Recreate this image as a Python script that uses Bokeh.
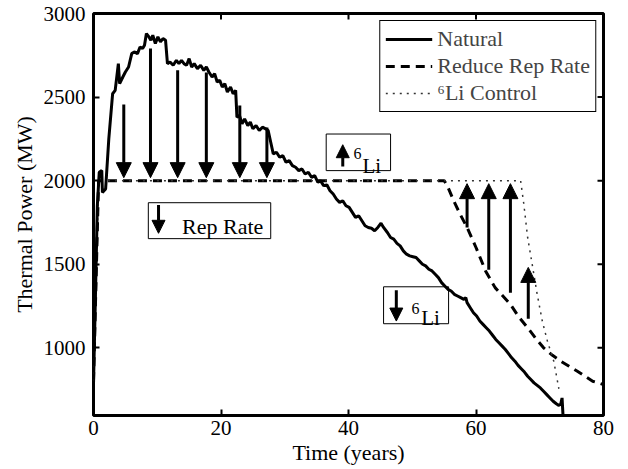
import math
from bokeh.plotting import figure
from bokeh.models import (Range1d, Legend, LegendItem, FixedTicker,
                          Arrow, NormalHead, ColumnDataSource, BoxAnnotation, Label)
from bokeh.embed import file_html
from bokeh.resources import INLINE

# ---------------- data ----------------
nat_t = [0.0, 0.3, 0.6, 0.9, 1.3, 1.4, 1.9, 2.4, 3.0, 3.4, 3.9, 4.1, 4.6, 5.0, 5.5, 6.0, 6.4,
         6.9, 7.3, 7.7, 8.0, 8.3, 8.7, 9.0, 9.3, 9.7, 10.1, 10.5, 10.9, 11.3, 11.6, 12.0,
         12.5, 13.0, 13.4, 13.8, 14.2, 14.6, 15.0, 15.4, 15.8, 16.3, 16.8, 17.3, 17.7, 18.1,
         18.6, 19.0, 19.4, 19.8, 20.2, 20.6, 21.0, 21.5, 21.9, 22.3, 22.5, 22.9, 23.3, 23.7,
         24.2, 24.6, 25.0, 25.5, 26.0, 26.5, 27.0, 27.4, 27.8, 28.2, 28.7, 29.2, 29.7, 30.2,
         30.7, 31.2, 31.7, 32.2, 32.7, 33.2, 33.7, 34.2, 34.7, 35.2, 35.6, 36.1, 36.6, 37.1,
         37.6, 38.1, 38.6, 39.1, 39.6, 40.1, 40.6, 41.1, 41.6, 42.1, 42.6, 43.1, 43.6, 44.1,
         44.6, 45.1, 45.5, 46.1, 46.6, 47.1, 47.6, 48.1, 48.6, 49.1, 49.6, 50.1, 50.6, 51.1,
         51.6, 52.1, 52.6, 53.1, 53.6, 54.1, 54.6, 55.1, 55.6, 56.1, 56.6, 57.1, 57.6, 58.1,
         58.4, 58.6, 59.1, 59.6, 60.1, 60.6, 61.1, 61.6, 62.1, 62.6, 63.1, 63.6, 64.1, 64.6,
         65.1, 65.6, 66.1, 66.6, 67.1, 67.6, 68.1, 68.6, 69.1, 69.6, 70.1, 70.6, 71.1, 71.6,
         72.1, 72.6, 73.0, 73.3, 73.5, 73.7]
nat_p = [780, 1300, 1850, 2050, 2060, 1930, 1950, 2250, 2520, 2540, 2700, 2580, 2620, 2650,
         2680, 2760, 2770, 2760, 2800, 2790, 2810, 2880, 2860, 2840, 2870, 2820, 2860, 2830,
         2850, 2840, 2700, 2710, 2690, 2720, 2700, 2720, 2700, 2690, 2730, 2680, 2700, 2670,
         2690, 2660, 2680, 2650, 2620, 2640, 2590, 2600, 2560, 2580, 2530, 2560, 2520, 2540,
         2380, 2390, 2340, 2370, 2330, 2350, 2310, 2330, 2300, 2320, 2310, 2300, 2230, 2160,
         2170, 2140, 2150, 2110, 2120, 2090, 2080, 2060, 2070, 2040, 2050, 2020, 2030, 1990,
         2000, 1970, 1975, 1940, 1920, 1890, 1870, 1880, 1850, 1840, 1810, 1780, 1790, 1760,
         1730, 1720, 1715, 1700, 1720, 1745, 1720, 1690, 1660, 1650, 1625, 1610, 1580, 1560,
         1550, 1545, 1540, 1520, 1500, 1490, 1470, 1460, 1440, 1420, 1390, 1370, 1350, 1340,
         1320, 1310, 1300, 1290, 1300, 1270, 1240, 1210, 1190, 1160, 1140, 1120, 1100, 1075,
         1050, 1030, 1010, 990, 965, 940, 920, 895, 875, 855, 830, 810, 790, 775, 760, 740,
         720, 700, 680, 665, 655, 665, 700, 560]

rep_t = [0.0, 0.8, 55.0, 55.5, 56.5, 57.5, 58.6, 60.0, 61.5, 63.0, 65.4, 66.7, 68.1, 69.4,
         70.6, 72.0, 73.3, 74.6, 75.9, 77.1, 78.3, 80.0]
rep_p = [800, 2000, 2000, 1970, 1880, 1800, 1720, 1600, 1460, 1360, 1260, 1185, 1120, 1055,
         1000, 955, 920, 890, 860, 830, 800, 780]

li_t = [0.0, 0.8, 67.0, 67.5, 68.1, 68.9, 69.6, 70.4, 71.2, 72.2, 73.0]
li_p = [800, 2000, 2000, 1860, 1660, 1480, 1320, 1160, 1040, 920, 755]

down_t = [4.75, 8.94, 13.2, 17.7, 22.95, 27.2]
down_from = [2455, 2790, 2660, 2647, 2449, 2318]
down_to = [2018, 2018, 2018, 2018, 2018, 2018]

up_t = [58.6, 62.0, 65.4, 68.2]
up_from = [1720, 1467, 1330, 1174]
up_to = [1982, 1982, 1982, 1481]

x_ticks = [0, 20, 40, 60, 80]
y_ticks = [1000, 1500, 2000, 2500, 3000]

series_names = ["Natural", "Reduce Rep Rate", "\u2076Li Control"]
FONT = "Liberation Serif"

# ---------------- figure ----------------
p = figure(width=628, height=469, output_backend="svg", toolbar_location=None,
           x_range=Range1d(0, 80), y_range=Range1d(595, 3000),
           min_border_left=93, min_border_right=25, min_border_top=13, min_border_bottom=54)
p.grid.visible = False
p.outline_line_color = "black"
p.outline_line_width = 3
p.background_fill_color = "white"
p.border_fill_color = "white"

for ax in (p.xaxis[0], p.yaxis[0]):
    ax.axis_line_color = None
    ax.major_tick_in = 6
    ax.major_tick_out = 0
    ax.major_tick_line_width = 2
    ax.minor_tick_line_color = None
    ax.major_label_text_font = FONT
    ax.major_label_text_font_size = "21px"
    ax.major_label_text_color = "black"
    ax.axis_label_text_font = FONT
    ax.axis_label_text_font_size = "22px"
    ax.axis_label_text_font_style = "normal"
    ax.axis_label_text_color = "black"

p.xaxis.ticker = FixedTicker(ticks=x_ticks)
p.yaxis.ticker = FixedTicker(ticks=y_ticks)
p.xaxis.axis_label = "Time (years)"
p.yaxis.axis_label = "Thermal Power (MW)"
p.xaxis.major_label_standoff = 5
p.xaxis.axis_label_standoff = 2
p.yaxis.major_label_standoff = 8
p.yaxis.axis_label_standoff = 4

# inward tick marks on the top and right edges of the box
p.ray(x=x_ticks, y=[p.y_range.end] * len(x_ticks), angle=-math.pi / 2,
      length=6, length_units="screen", line_color="black", line_width=2)
p.ray(x=[p.x_range.end] * len(y_ticks), y=y_ticks, angle=math.pi,
      length=6, length_units="screen", line_color="black", line_width=2)

# ---------------- series ----------------
r_rep = p.line(rep_t, rep_p, line_color="black", line_width=3, line_dash="9 6")
r_li = p.line(li_t, li_p, line_color="#333333", line_width=1.5, line_dash="2 5")
r_nat = p.line(nat_t, nat_p, line_color="black", line_width=3)

# ---------------- arrows ----------------
down_src = ColumnDataSource(dict(x0=down_t, y0=down_from, x1=down_t, y1=down_to))
up_src = ColumnDataSource(dict(x0=up_t, y0=up_from, x1=up_t, y1=up_to))
for src in (down_src, up_src):
    p.add_layout(Arrow(end=NormalHead(size=15, fill_color="black", line_color="black"),
                       x_start="x0", y_start="y0", x_end="x1", y_end="y1",
                       line_width=3, line_color="black", source=src))

# ---------------- annotation boxes ----------------
def box(l, r, b, t):
    p.add_layout(BoxAnnotation(left=l, right=r, bottom=b, top=t, fill_alpha=0,
                               line_color="black", line_width=1, line_alpha=1))

def small_arrow(x, y0, y1):
    p.add_layout(Arrow(end=NormalHead(size=13, fill_color="black", line_color="black"),
                       x_start=x, y_start=y0, x_end=x, y_end=y1,
                       line_width=3, line_color="black"))

def lbl(x, y, text, size):
    p.add_layout(Label(x=x, y=y, text=text, text_font=FONT, text_font_size=size,
                       text_baseline="alphabetic", text_align="left", text_color="black"))

# up 6Li box
box(36.5, 46.6, 2060, 2279)
small_arrow(39.1, 2085, 2215)
lbl(40.8, 2165, "6", "16px")
lbl(42.2, 2090, "Li", "21px")

# Rep Rate box
box(8.6, 27.8, 1653, 1868)
small_arrow(10.2, 1855, 1685)
lbl(13.9, 1725, "Rep Rate", "22px")

# down 6Li box
box(45.5, 55.7, 1144, 1365)
small_arrow(47.5, 1345, 1160)
lbl(49.9, 1234, "6", "16px")
lbl(51.4, 1180, "Li", "21px")

# ---------------- legend ----------------
legend = Legend(items=[LegendItem(label=series_names[0], renderers=[r_nat]),
                       LegendItem(label=series_names[1], renderers=[r_rep]),
                       LegendItem(label=series_names[2], renderers=[r_li])],
                location="top_right", margin=7, padding=5, spacing=1,
                glyph_width=47, glyph_height=22, label_height=22, label_standoff=5,
                label_text_font=FONT, label_text_font_size="22px",
                border_line_color="black", border_line_width=1, border_line_alpha=1,
                background_fill_color="white", background_fill_alpha=1)
p.add_layout(legend)

open("out.html", "w").write(file_html(p, INLINE))
